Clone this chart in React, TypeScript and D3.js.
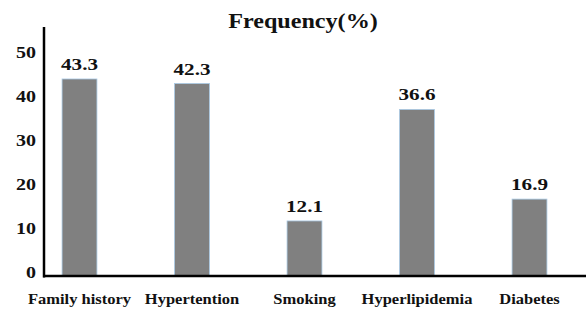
import React from "react";
import * as d3 from "d3";

const categories = ["Family history", "Hypertention", "Smoking", "Hyperlipidemia", "Diabetes"];
const values = [43.3, 42.3, 12.1, 36.6, 16.9];
const yTicks = [0, 10, 20, 30, 40, 50];
const title = "Frequency(%)";

const W = 586;
const H = 310;
const FONT = "Liberation Serif, Times New Roman, serif";

export default function App() {
  const x = d3
    .scaleBand<string>()
    .domain(categories)
    .range([23.25, 585.75])
    .paddingInner(0.69)
    .paddingOuter(0.345);
  const y = d3.scaleLinear().domain([0, 50]).range([276, 48.5]);
  const yLabel = d3.scaleLinear().domain([0, 50]).range([277.5, 57.5]);
  const axisX = 44;

  return (
    <div style={{ position: "absolute", left: 0, top: 0 }}>
      <svg width={W} height={H} style={{ display: "block", background: "#fff" }}>
        <text
          transform={`translate(303,28) scale(1.15,1)`}
          textAnchor="middle"
          style={{ fontFamily: FONT }}
          fontWeight="bold"
          fontSize={21}
          fill="#111"
        >
          {title}
        </text>
        {categories.map((c, i) => {
          const bx = x(c) as number;
          const by = y(values[i]);
          return (
            <g key={c}>
              <rect
                x={bx}
                y={by}
                width={x.bandwidth()}
                height={y(0) - by}
                fill="#808080"
                stroke="#a9c9e4"
                strokeWidth={0.8}
              />
              <text
                transform={`translate(${bx + x.bandwidth() / 2},${by - 9}) scale(1.32,1)`}
                textAnchor="middle"
                style={{ fontFamily: FONT }}
                fontWeight="bold"
                fontSize={16}
                fill="#111"
              >
                {values[i].toFixed(1)}
              </text>
              <text
                transform={`translate(${bx + x.bandwidth() / 2},303.5) scale(1.1,1)`}
                textAnchor="middle"
                style={{ fontFamily: FONT }}
                fontWeight="bold"
                fontSize={15}
                fill="#111"
              >
                {c}
              </text>
            </g>
          );
        })}
        {yTicks.map((t) => (
          <text
            key={t}
            transform={`translate(36,${yLabel(t)}) scale(1.25,1)`}
            textAnchor="end"
            style={{ fontFamily: FONT }}
            fontWeight="bold"
            fontSize={16}
            fill="#111"
          >
            {t}
          </text>
        ))}
        <line x1={axisX} x2={axisX} y1={27} y2={277.5} stroke="#000" strokeWidth={2.5} />
        <line x1={axisX - 1} x2={W} y1={276} y2={276} stroke="#000" strokeWidth={2.5} />
      </svg>
    </div>
  );
}
